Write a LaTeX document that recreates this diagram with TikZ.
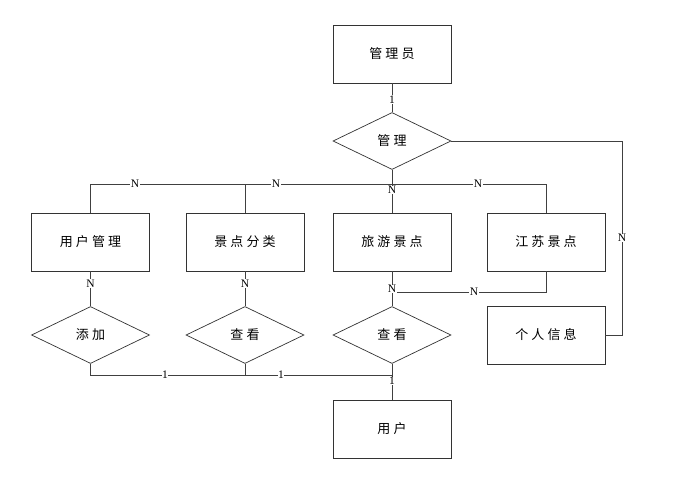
\documentclass[tikz,border=0pt]{standalone}
\usepackage{fontspec}
\usetikzlibrary{shapes.geometric}
\newfontfamily\cjk[LetterSpace=24]{Noto Sans CJK SC}
\setmainfont{Liberation Serif}
\tikzset{
  ent/.style={draw=black!80, line width=0.9pt, rectangle, minimum width=118pt, minimum height=58pt, inner sep=0pt, font=\cjk\fontsize{13}{15}\selectfont, fill=white},
  rel/.style={draw=black!80, line width=0.7pt, diamond, aspect=2.05, minimum width=118pt, minimum height=57pt, inner sep=0pt, font=\cjk\fontsize{13}{15}\selectfont},
  ln/.style={draw=black!75, line width=0.8pt},
  card/.style={fill=white, inner sep=0.6pt, font=\fontsize{11.5}{12}\selectfont}
}
\begin{document}
\begin{tikzpicture}[x=1pt,y=-1pt]
\useasboundingbox[fill=white] (0,0) rectangle (699,485);
% entities
\node[ent] (admin) at (392,54) {管理员};
\node[ent] (um) at (90.5,242) {用户管理};
\node[ent] (fl) at (245,242) {景点分类};
\node[ent] (ly) at (392,242) {旅游景点};
\node[ent] (js) at (546,242) {江苏景点};
\node[ent] (gr) at (546,335) {个人信息};
\node[ent] (user) at (392,429) {用户};
% relationships
\node[rel] (gl) at (392,141) {管理};
\node[rel] (tj) at (90.5,335) {添加};
\node[rel] (ck1) at (245,335) {查看};
\node[rel] (ck2) at (392,335) {查看};
% coordinates
\coordinate (bar) at (392,184);
\coordinate (low) at (392,375);
% connectors
\draw[ln] (admin.south) -- node[card, pos=0.55]{1} (gl.north);
\draw[ln] (gl.south) -- (bar);
\draw[ln] (bar) -- (bar -| um.north) -- (um.north);
\draw[ln] (bar -| fl.north) -- (fl.north);
\draw[ln] (bar) -- (ly.north);
\draw[ln] (bar) -- (bar -| js.north) -- (js.north);
\node[card] at (135,184) {N};
\node[card] at (276,184) {N};
\node[card] at (392,190) {N};
\node[card] at (478,184) {N};
\draw[ln] (gl.east) -- (622,141) -- node[card, pos=0.5]{N} (622,335) -- (gr.east);
\draw[ln] (um.south) -- node[card, pos=0.35]{N} (tj.north);
\draw[ln] (fl.south) -- node[card, pos=0.35]{N} (ck1.north);
\draw[ln] (ly.south) -- (ck2.north);
\draw[ln] (js.south) -- (546,292) -- (392,292);
\node[card] at (392,289) {N};
\node[card] at (474,292) {N};
\draw[ln] (tj.south) -- (90.5,375) -- (low);
\draw[ln] (ck1.south) -- (245,375);
\draw[ln] (ck2.south) -- (user.north);
\node[card] at (165,375) {1};
\node[card] at (281,375) {1};
\node[card] at (392,381) {1};
\end{tikzpicture}
\end{document}
